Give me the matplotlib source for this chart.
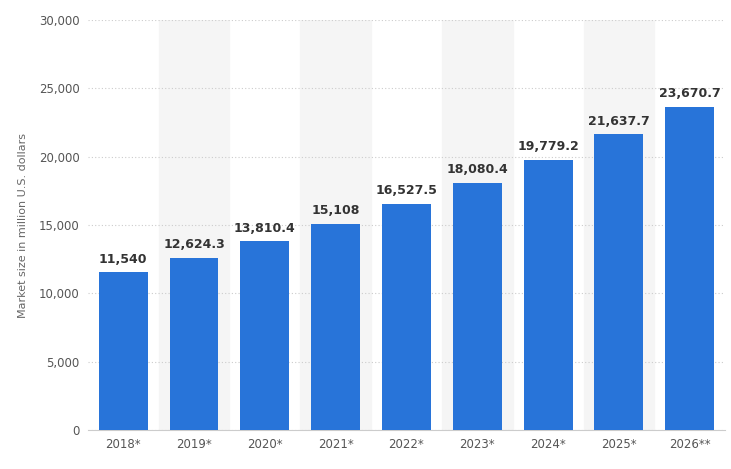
import matplotlib
matplotlib.use("Agg")
import matplotlib.pyplot as plt

years = ["2018*", "2019*", "2020*", "2021*", "2022*", "2023*", "2024*", "2025*", "2026**"]
values = [11540, 12624.3, 13810.4, 15108, 16527.5, 18080.4, 19779.2, 21637.7, 23670.7]
labels = ["11,540", "12,624.3", "13,810.4", "15,108", "16,527.5", "18,080.4", "19,779.2", "21,637.7", "23,670.7"]
yticks = [0, 5000, 10000, 15000, 20000, 25000, 30000]

fig = plt.figure(figsize=(7.31, 4.69), dpi=100)
ax = fig.add_axes([0.120, 0.083, 0.872, 0.874])
x = range(len(years))
for i in x:
    if i % 2 == 1:
        ax.axvspan(i - 0.5, i + 0.5, color="#f5f5f5", zorder=0)
ax.bar(x, values, width=0.69, color="#2874d9", zorder=3)
for i, (v, l) in enumerate(zip(values, labels)):
    ax.text(i, v + 500, l, ha="center", va="bottom", fontsize=9, fontweight="bold", color="#333333", zorder=4)
ax.set_xlim(-0.5, len(years) - 0.5)
ax.set_ylim(0, 30000)
ax.set_yticks(yticks)
ax.set_yticklabels([f"{t:,}" for t in yticks], color="#555555", fontsize=8.5)
ax.set_xticks(list(x))
ax.set_xticklabels(years, color="#555555", fontsize=8.5)
ax.yaxis.grid(True, linestyle=(0, (1, 2)), color="#cccccc", zorder=1)
for s in ["top", "right", "left"]:
    ax.spines[s].set_visible(False)
ax.spines["bottom"].set_color("#cccccc")
ax.tick_params(length=0, pad=6)
ax.set_ylabel("Market size in million U.S. dollars", color="#666666", fontsize=8, labelpad=8)
fig.savefig("out.png", dpi=100, facecolor="white")
